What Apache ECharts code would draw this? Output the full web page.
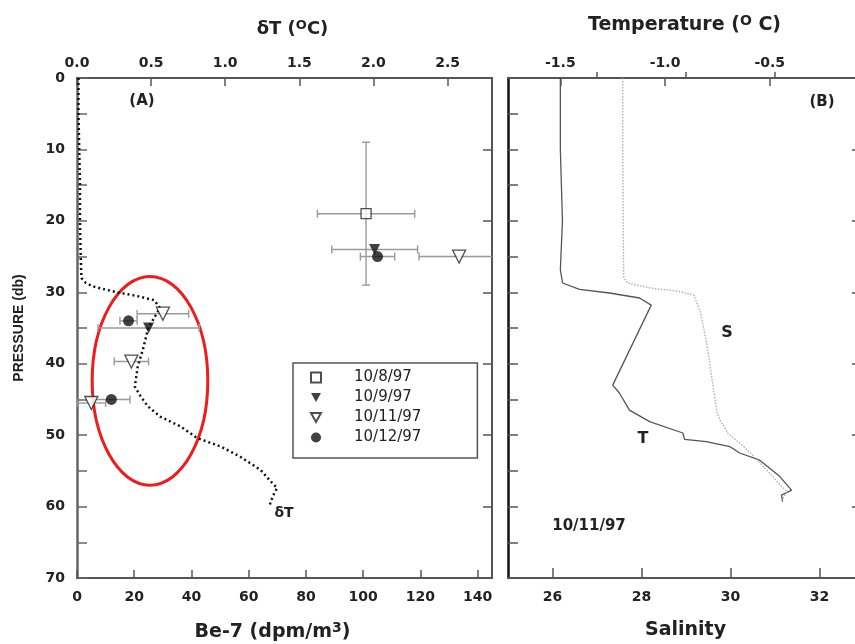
<!DOCTYPE html>
<html><head><meta charset="utf-8">
<script src="https://cdn.jsdelivr.net/npm/echarts@6/dist/echarts.min.js"></script>
<style>html,body{margin:0;padding:0;background:#fff}#c{width:855px;height:644px}</style>
</head><body><div id="c"></div>
<script>
// ---------- Panel A : deltaT profile (top axis) ----------
const dTPressure = [0, 5, 10, 15, 20, 25, 28, 28.7, 29.2, 30.0, 30.5, 31.1, 32.2, 35, 37.6, 40.4, 43.2, 44.6, 46.0, 47.4, 48.8, 50.4, 51.6, 53.0, 54.9, 57.0, 57.4, 58.6, 59.8];
const dTValue    = [0.01, 0.01, 0.015, 0.02, 0.02, 0.025, 0.03, 0.06, 0.11, 0.27, 0.40, 0.52, 0.56, 0.48, 0.45, 0.41, 0.39, 0.43, 0.48, 0.56, 0.70, 0.81, 0.97, 1.10, 1.24, 1.33, 1.35, 1.32, 1.30];

// ---------- Panel A : Be-7 samples (bottom axis) ----------
const dates = ['10/8/97', '10/9/97', '10/11/97', '10/12/97'];
const be7_1008 = [101];            const p_1008 = [19];               const ex_1008 = [17];             const ey_1008 = [10];
const be7_1009 = [104, 25];        const p_1009 = [24, 35];           const ex_1009 = [15, 17.7];       const ey_1009 = [0, 0];
const be7_1011 = [133.5, 30, 19, 5]; const p_1011 = [25, 33, 39.7, 45.5]; const ex_1011 = [14, 9, 6, 5]; const ey_1011 = [0, 0, 0, 0];
const be7_1012 = [105, 18, 12];    const p_1012 = [25, 34, 45];       const ex_1012 = [6, 3, 6.5];      const ey_1012 = [0, 0, 0];

// highlighted region (ellipse) : centre and half-widths in data units
const ellipseCenter = [25.5, 42.4];
const ellipseRadius = [20.2, 14.6];

// ---------- Panel B : 10/11/97 CTD profile ----------
const tPressure = [0, 10, 20, 26.9, 28.7, 29.6, 30.1, 30.8, 31.8, 43.0, 44.1, 46.5, 48.1, 49.7, 50.6, 50.9, 51.6, 52.5, 53.5, 55.8, 57.7, 58.4, 59.3];
const tValue    = [-1.50, -1.50, -1.49, -1.50, -1.489, -1.409, -1.266, -1.122, -1.066, -1.250, -1.218, -1.170, -1.074, -0.915, -0.907, -0.803, -0.691, -0.644, -0.548, -0.452, -0.396, -0.444, -0.439];
const sPressure = [0, 10, 20, 27.8, 28.7, 29.4, 29.9, 30.4, 32.9, 37.6, 42.3, 46.9, 48.1, 49.0, 49.7, 51.6, 52.1, 54.9, 56.5, 57.9, 59.1];
const sValue    = [27.58, 27.58, 27.59, 27.60, 27.68, 28.20, 28.88, 29.18, 29.33, 29.48, 29.59, 29.70, 29.78, 29.88, 29.93, 30.30, 30.38, 30.82, 31.05, 31.27, 31.16];

// ---------- tick values ----------
const be7Ticks = [0, 20, 40, 60, 80, 100, 120, 140];
const dTTicks = [0, 0.5, 1.0, 1.5, 2.0, 2.5];
const tempTicks = [-1.5, -1.0, -0.5];
const salMajorTicks = [26, 28, 30, 32];
const salMinorTicks = [27, 29, 31];

const zip = (xs, ys) => xs.map((x, i) => [x, ys[i]]);
const zip4 = (a, b, c, d) => a.map((x, i) => [x, b[i], c[i], d[i]]);

const F = 'DejaVu Sans, Liberation Sans, sans-serif';
const tickLbl = (margin, fmt) => ({ fontFamily: F, fontWeight: 'bold', fontSize: 14, color: '#222', margin: margin, formatter: fmt });
const axLine = (c, w) => ({ show: true, onZero: false, lineStyle: { color: c, width: w } });

function errRender(params, api) {
  const x = api.value(0), y = api.value(1), ex = api.value(2), ey = api.value(3);
  const cs = params.coordSys;
  const x0 = cs.x, x1 = cs.x + cs.width;
  const c = api.coord([x, y]);
  const l = api.coord([x - ex, y])[0], r = api.coord([x + ex, y])[0];
  const style = { stroke: '#9a9a9a', lineWidth: 1.4, fill: null };
  const cap = 4;
  const ch = [];
  ch.push({ type: 'line', shape: { x1: Math.max(l, x0), y1: c[1], x2: Math.min(r, x1), y2: c[1] }, style });
  if (l >= x0) ch.push({ type: 'line', shape: { x1: l, y1: c[1] - cap, x2: l, y2: c[1] + cap }, style });
  if (r <= x1) ch.push({ type: 'line', shape: { x1: r, y1: c[1] - cap, x2: r, y2: c[1] + cap }, style });
  if (ey > 0) {
    const t = api.coord([x, y - ey])[1], b = api.coord([x, y + ey])[1];
    ch.push({ type: 'line', shape: { x1: c[0], y1: t, x2: c[0], y2: b }, style });
    ch.push({ type: 'line', shape: { x1: c[0] - cap, y1: t, x2: c[0] + cap, y2: t }, style });
    ch.push({ type: 'line', shape: { x1: c[0] - cap, y1: b, x2: c[0] + cap, y2: b }, style });
  }
  return { type: 'group', children: ch };
}
const errSeries = (name, data) => ({
  name: name, type: 'custom', xAxisIndex: 0, yAxisIndex: 0, z: 2, silent: true,
  encode: { x: 0, y: 1 }, renderItem: errRender, data: data
});

const downTri = 'path://M0,0L10,0L5,9Z';

const chart = echarts.init(document.getElementById('c'), null, { renderer: 'canvas' });
const option = {
  animation: false,
  backgroundColor: '#fff',
  grid: [
    { left: 77, top: 78, width: 415, height: 500, containLabel: false, outerBoundsMode: 'none' },
    { left: 508, top: 78, right: 0, height: 500, containLabel: false, outerBoundsMode: 'none' }
  ],
  xAxis: [
    { // 0 Be-7 bottom
      type: 'value', gridIndex: 0, position: 'bottom', min: 0, max: 145,
      axisLine: axLine('#555', 2), splitLine: { show: false },
      axisTick: { inside: true, length: 8, lineStyle: { color: '#555', width: 1.5 }, customValues: be7Ticks },
      axisLabel: Object.assign(tickLbl(12), { customValues: be7Ticks }),
      name: 'Be-7 (dpm/m{s|3})', nameLocation: 'middle', nameGap: 43,
      nameTextStyle: { fontFamily: F, fontWeight: 'bold', fontSize: 19, color: '#222', padding: [0, 24, 0, 0],
        rich: { s: { fontFamily: F, fontWeight: 'bold', fontSize: 14, color: '#222', padding: [0, 0, 9, 0] } } }
    },
    { // 1 deltaT top
      type: 'value', gridIndex: 0, position: 'top', min: 0, max: 2.8,
      axisLine: axLine('#555', 2), splitLine: { show: false },
      axisTick: { inside: true, length: 8, lineStyle: { color: '#555', width: 1.5 }, customValues: dTTicks },
      axisLabel: Object.assign(tickLbl(8, v => v.toFixed(1)), { customValues: dTTicks }),
      name: 'δT (\u200B{s|O}C)', nameLocation: 'middle', nameGap: 38,
      nameTextStyle: { fontFamily: F, fontWeight: 'bold', fontSize: 18, color: '#222', padding: [0, 0, 0, 16],
        rich: { s: { fontFamily: F, fontWeight: 'bold', fontSize: 13, color: '#222', padding: [0, 0, 8, 0] } } }
    },
    { // 2 Temperature top (panel B)
      type: 'value', gridIndex: 1, position: 'top', min: -1.75, max: -0.093,
      axisLine: axLine('#555', 2), splitLine: { show: false },
      axisTick: { inside: true, length: 8, lineStyle: { color: '#555', width: 1.5 }, customValues: tempTicks },
      axisLabel: Object.assign(tickLbl(8, v => v.toFixed(1)), { customValues: tempTicks }),
      name: 'Temperature ({s|O} C)', nameLocation: 'middle', nameGap: 42,
      nameTextStyle: { fontFamily: F, fontWeight: 'bold', fontSize: 19, color: '#222', padding: [0, 0, 0, 6],
        rich: { s: { fontFamily: F, fontWeight: 'bold', fontSize: 14, color: '#222', padding: [0, 0, 8, 0] } } }
    },
    { // 3 Salinity bottom (panel B)
      type: 'value', gridIndex: 1, position: 'bottom', min: 25, max: 32.8,
      axisLine: axLine('#555', 2), splitLine: { show: false },
      axisTick: { inside: true, length: 10, lineStyle: { color: '#555', width: 1.5 }, customValues: salMajorTicks },
      axisLabel: Object.assign(tickLbl(12), { customValues: salMajorTicks }),
      name: 'Salinity', nameLocation: 'middle', nameGap: 43,
      nameTextStyle: { fontFamily: F, fontWeight: 'bold', fontSize: 19, color: '#222', padding: [0, 0, 0, 8] }
    },
    { // 4 Salinity minor ticks
      type: 'value', gridIndex: 1, position: 'bottom', min: 25, max: 32.8,
      axisLine: { show: false }, splitLine: { show: false },
      axisTick: { inside: true, length: 6, lineStyle: { color: '#555', width: 1.5 }, customValues: salMinorTicks },
      axisLabel: { show: false }
    }
  ],
  yAxis: [
    { // 0 pressure left (panel A)
      type: 'value', gridIndex: 0, position: 'left', inverse: true, min: 0, max: 70, interval: 10,
      axisLine: axLine('#666', 2.5), splitLine: { show: false },
      axisTick: { inside: true, length: 10, lineStyle: { color: '#666', width: 1.5 } },
      minorTick: { show: true, splitNumber: 2, length: 10, lineStyle: { color: '#666', width: 1.5 } },
      axisLabel: tickLbl(12),
      name: 'PRESSURE (db)', nameLocation: 'middle', nameGap: 51, nameRotate: 90,
      nameTextStyle: { fontFamily: 'Liberation Sans Narrow, Liberation Sans, sans-serif', fontWeight: 'bold', fontSize: 14, color: '#222' }
    },
    { // 1 right (panel A)
      type: 'value', gridIndex: 0, position: 'right', inverse: true, min: 0, max: 70, interval: 10,
      axisLine: axLine('#555', 2), splitLine: { show: false },
      axisTick: { inside: true, length: 9, lineStyle: { color: '#555', width: 1.5 } },
      axisLabel: { show: false }
    },
    { // 2 left (panel B)
      type: 'value', gridIndex: 1, position: 'left', inverse: true, min: 0, max: 70, interval: 5,
      axisLine: axLine('#111', 2.5), splitLine: { show: false },
      axisTick: { inside: true, length: 10, lineStyle: { color: '#555', width: 1.5 } },
      axisLabel: { show: false }
    },
    { // 3 right (panel B) - the frame lies just beyond the picture
      type: 'value', gridIndex: 1, position: 'right', inverse: true, min: 0, max: 70, interval: 10,
      axisLine: { show: false }, splitLine: { show: false },
      axisTick: { inside: true, length: 3, lineStyle: { color: '#555', width: 1.5 } },
      axisLabel: { show: false }
    }
  ],
  legend: {
    data: [
      { name: dates[0] },
      { name: dates[1], icon: downTri },
      { name: dates[2], icon: downTri },
      { name: dates[3] }
    ],
    orient: 'vertical', left: 293, top: 363,
    itemWidth: 10, itemHeight: 10, itemGap: 5,
    padding: [7, 56, 13, 17],
    borderColor: '#555', borderWidth: 1.5, backgroundColor: '#fff',
    textStyle: { fontFamily: F, fontSize: 15, color: '#222', padding: [0, 0, 0, 28] },
    selectedMode: false
  },
  series: [
    { name: 'ellipse', type: 'custom', xAxisIndex: 0, yAxisIndex: 0, z: 1, silent: true,
      encode: { x: 0, y: 1 },
      renderItem: (params, api) => {
        const c = api.coord([api.value(0), api.value(1)]);
        const s = api.size([api.value(2), api.value(3)]);
        return { type: 'ellipse', shape: { cx: c[0], cy: c[1], rx: Math.abs(s[0]), ry: Math.abs(s[1]) },
          style: { fill: null, stroke: '#ee1c1c', lineWidth: 3 } };
      },
      data: [[ellipseCenter[0], ellipseCenter[1], ellipseRadius[0], ellipseRadius[1]]] },
    { name: 'dT', type: 'line', xAxisIndex: 1, yAxisIndex: 0, showSymbol: false, silent: true, z: 3,
      lineStyle: { color: '#111', width: 2.5, type: [2, 3] },
      data: zip(dTValue, dTPressure) },
    errSeries('e1008', zip4(be7_1008, p_1008, ex_1008, ey_1008)),
    errSeries('e1009', zip4(be7_1009, p_1009, ex_1009, ey_1009)),
    errSeries('e1011', zip4(be7_1011, p_1011, ex_1011, ey_1011)),
    errSeries('e1012', zip4(be7_1012, p_1012, ex_1012, ey_1012)),
    { name: dates[0], type: 'scatter', xAxisIndex: 0, yAxisIndex: 0, z: 5, symbol: 'rect', symbolSize: 10,
      itemStyle: { color: '#fff', borderColor: '#222', borderWidth: 1.3 }, data: zip(be7_1008, p_1008) },
    { name: dates[1], type: 'scatter', xAxisIndex: 0, yAxisIndex: 0, z: 5, symbol: 'triangle', symbolRotate: 180, symbolSize: 11,
      itemStyle: { color: '#111' }, data: zip(be7_1009, p_1009) },
    { name: dates[2], type: 'scatter', xAxisIndex: 0, yAxisIndex: 0, z: 5, symbol: 'triangle', symbolRotate: 180, symbolSize: 13,
      itemStyle: { color: '#fff', borderColor: '#222', borderWidth: 1.3 }, data: zip(be7_1011, p_1011) },
    { name: dates[3], type: 'scatter', xAxisIndex: 0, yAxisIndex: 0, z: 5, symbol: 'circle', symbolSize: 11,
      itemStyle: { color: '#111' }, data: zip(be7_1012, p_1012) },
    { name: 'T', type: 'line', xAxisIndex: 2, yAxisIndex: 2, showSymbol: false, silent: true, z: 3,
      lineStyle: { color: '#555', width: 1.3 }, data: zip(tValue, tPressure) },
    { name: 'S', type: 'line', xAxisIndex: 3, yAxisIndex: 2, showSymbol: false, silent: true, z: 3,
      lineStyle: { color: '#aaa', width: 1.3, type: [1.5, 1.5] }, data: zip(sValue, sPressure) }
  ],
  graphic: [
    { type: 'text', x: 142, y: 101, style: { text: '(A)', font: 'bold 15px ' + F, fill: '#222', align: 'center', verticalAlign: 'middle' } },
    { type: 'text', x: 822, y: 102, style: { text: '(B)', font: 'bold 15px ' + F, fill: '#222', align: 'center', verticalAlign: 'middle' } },
    { type: 'text', x: 284, y: 513, style: { text: 'δT', font: 'bold 14px ' + F, fill: '#222', align: 'center', verticalAlign: 'middle' } },
    { type: 'text', x: 727, y: 333, style: { text: 'S', font: 'bold 16px ' + F, fill: '#222', align: 'center', verticalAlign: 'middle' } },
    { type: 'text', x: 643, y: 439, style: { text: 'T', font: 'bold 16px ' + F, fill: '#222', align: 'center', verticalAlign: 'middle' } },
    { type: 'text', x: 589, y: 526, style: { text: '10/11/97', font: 'bold 15px ' + F, fill: '#222', align: 'center', verticalAlign: 'middle' } }
  ]
};
chart.setOption(option);
</script></body></html>
